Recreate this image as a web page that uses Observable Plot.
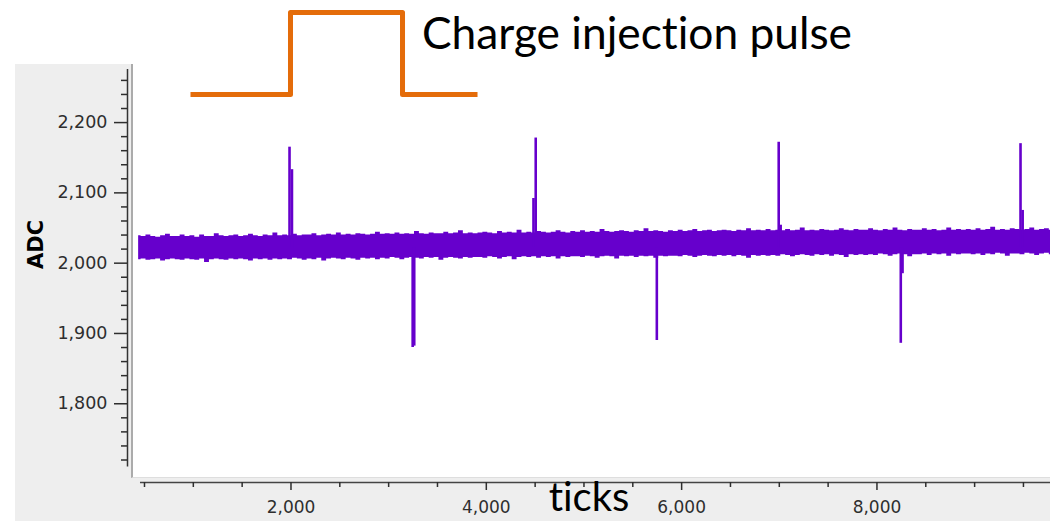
<!DOCTYPE html>
<html><head><meta charset="utf-8">
<script src="https://cdn.jsdelivr.net/npm/d3@7"></script>
<script src="https://cdn.jsdelivr.net/npm/@observablehq/plot@0.6"></script>
<style>
html,body{margin:0;padding:0;background:#fff;}
#wrap{position:relative;width:1050px;height:521px;overflow:hidden;background:#fff;}
#panel{position:absolute;left:15px;top:64px;width:1035px;height:457px;background:#eeeeee;}
#plotbg{position:absolute;left:131px;top:64px;width:919px;height:414px;background:#fff;border-left:2px solid #ababab;border-bottom:1px solid #dedede;box-sizing:border-box;}
#chart,#pulse{position:absolute;left:0;top:0;}
#title{position:absolute;left:422px;top:10px;font-family:Lato,"Open Sans",sans-serif;font-size:44px;line-height:1;color:#000;white-space:nowrap;transform-origin:left top;}
svg text, #title{font-variant-ligatures:none;font-feature-settings:"liga" 0;}
</style></head>
<body><div id="wrap"><div id="panel"></div><div id="plotbg"></div><div id="chart"></div><div id="pulse"></div><div id="title">Charge injection pulse</div></div>
<script>
// ---- data ----
const noiseTicks = [440,490,540,590,640,690,740,790,840,890,
  940,990,1040,1090,1140,1190,1240,1290,1340,1390,
  1440,1490,1540,1590,1640,1690,1740,1790,1840,1890,
  1940,1990,2040,2090,2140,2190,2240,2290,2340,2390,
  2440,2490,2540,2590,2640,2690,2740,2790,2840,2890,
  2940,2990,3040,3090,3140,3190,3240,3290,3340,3390,
  3440,3490,3540,3590,3640,3690,3740,3790,3840,3890,
  3940,3990,4040,4090,4140,4190,4240,4290,4340,4390,
  4440,4490,4540,4590,4640,4690,4740,4790,4840,4890,
  4940,4990,5040,5090,5140,5190,5240,5290,5340,5390,
  5440,5490,5540,5590,5640,5690,5740,5790,5840,5890,
  5940,5990,6040,6090,6140,6190,6240,6290,6340,6390,
  6440,6490,6540,6590,6640,6690,6740,6790,6840,6890,
  6940,6990,7040,7090,7140,7190,7240,7290,7340,7390,
  7440,7490,7540,7590,7640,7690,7740,7790,7840,7890,
  7940,7990,8040,8090,8140,8190,8240,8290,8340,8390,
  8440,8490,8540,8590,8640,8690,8740,8790,8840,8890,
  8940,8990,9040,9090,9140,9190,9240,9290,9340,9390,
  9440,9490,9540,9590,9640,9690,9740,9790,9840];
const noiseHigh = [2039,2038,2040,2038,2037,2039,2041,2038,2038,2040,
  2038,2039,2037,2040,2038,2038,2042,2039,2038,2039,
  2040,2038,2039,2041,2039,2038,2040,2039,2043,2039,
  2040,2039,2041,2039,2040,2040,2042,2039,2040,2041,
  2040,2043,2040,2041,2040,2042,2041,2040,2041,2044,
  2041,2042,2041,2043,2041,2042,2041,2045,2042,2041,
  2043,2042,2042,2044,2042,2043,2046,2042,2043,2042,
  2043,2044,2043,2042,2045,2043,2044,2043,2047,2043,
  2044,2043,2045,2044,2043,2044,2046,2044,2043,2045,
  2044,2046,2044,2045,2044,2048,2045,2044,2045,2046,
  2045,2044,2046,2045,2049,2045,2046,2045,2044,2046,
  2045,2047,2045,2046,2048,2045,2046,2047,2045,2046,
  2047,2046,2045,2047,2046,2049,2046,2047,2046,2048,
  2046,2047,2046,2048,2046,2047,2050,2046,2047,2046,
  2048,2047,2046,2047,2049,2047,2046,2048,2047,2047,
  2049,2047,2046,2048,2047,2050,2047,2046,2048,2047,
  2047,2049,2047,2048,2046,2047,2050,2047,2048,2047,
  2048,2047,2049,2047,2048,2051,2047,2048,2047,2049,
  2048,2047,2048,2050,2047,2048,2049,2047,2048];
const noiseLow = [2005,2006,2004,2005,2006,2003,2005,2006,2005,2004,
  2006,2005,2004,2006,2001,2005,2006,2005,2004,2006,
  2005,2006,2005,2003,2006,2005,2006,2004,2006,2005,
  2006,2005,2007,2006,2004,2006,2005,2007,2003,2006,
  2007,2006,2005,2007,2006,2004,2007,2006,2007,2005,
  2007,2006,2008,2007,2005,2007,2008,2007,2006,2008,
  2007,2008,2004,2007,2008,2007,2006,2008,2007,2008,
  2008,2007,2009,2008,2006,2008,2009,2005,2008,2009,
  2008,2009,2007,2009,2008,2009,2006,2009,2008,2009,
  2009,2008,2010,2009,2007,2009,2010,2009,2006,2010,
  2009,2010,2008,2010,2009,2010,2007,2010,2009,2010,
  2010,2009,2011,2010,2008,2010,2011,2010,2009,2011,
  2010,2011,2009,2011,2010,2007,2011,2010,2011,2010,
  2011,2010,2012,2011,2009,2011,2012,2011,2010,2012,
  2011,2012,2010,2012,2011,2008,2012,2011,2012,2011,
  2012,2011,2013,2012,2010,2012,2013,2012,2009,2012,
  2012,2013,2011,2013,2012,2013,2010,2013,2012,2013,
  2013,2012,2013,2011,2013,2012,2014,2013,2010,2013,
  2013,2012,2014,2013,2011,2013,2014,2012,2013];
const spikeTicks = [1985,2010,4483,4506,6994,7014,9470,9492,3246,3262,5746,8244,8262];
const spikeEnds  = [2165,2133,2092,2178,2172,2054,2170,2075,1880,1882,1890,1886,1985];
const spikeBase = 2022;
const pulseTicks  = [971,1995,3142,3910];
const pulseLevels = [0,1,0,0];
const xMajorTicks = [2000,4000,6000,8000];
const xMinorTicks = [500,1000,1500,2500,3000,3500,4500,5000,5500,6500,7000,7500,8500,9000,9500];
const yMajorTicks = [1800,1900,2000,2100,2200];
const yMinorTicks = [1720,1740,1760,1780,1820,1840,1860,1880,1920,1940,1960,1980,2020,2040,2060,2080,2120,2140,2160,2180,2220,2240,2260];
const xDomain = [326,9777];
const yDomain = [1688,2275.5];
const yAxisExtent = [1710,2275.5];
const xAxisExtent = [459,9777];

// ---- build ----
const purple = "#6600cc", orange = "#e46c0a", ink = "#2e2e2e";
const noise = noiseTicks.map((t,i)=>({tick:t, lo:noiseLow[i], hi:noiseHigh[i]}));
const spikes = spikeTicks.map((t,i)=>({tick:t, end:spikeEnds[i], base:spikeBase}));
const pulse = pulseTicks.map((t,i)=>({tick:t, level:pulseLevels[i]}));
const fmt = d3.format(",");
const common = {width:1050, height:521, marginLeft:127, marginRight:0, marginTop:69, marginBottom:39,
  style:{background:"transparent", overflow:"visible"}};

const chart = Plot.plot({...common,
  x:{domain:xDomain}, y:{domain:yDomain},
  marks:[
    Plot.areaY(noise,{x:"tick", y1:"lo", y2:"hi", curve:"step", fill:purple}),
    Plot.ruleX(spikes,{x:"tick", y1:"base", y2:"end", stroke:purple, strokeWidth:2.6}),
    Plot.ruleX([xDomain[0]],{y1:yAxisExtent[0], y2:yAxisExtent[1], stroke:"#333", strokeWidth:1.5}),
    Plot.ruleY([yDomain[0]],{x1:xAxisExtent[0], x2:xAxisExtent[1], stroke:"#444", strokeWidth:1.5}),
    Plot.axisY({ticks:yMajorTicks, tickSize:13, tickPadding:7, tickFormat:fmt, fontSize:17.5, fontFamily:"DejaVu Sans", color:ink, label:null, strokeWidth:1.5}),
    Plot.axisY({ticks:yMinorTicks, tickSize:6, tickFormat:()=>"", label:null, color:ink, strokeWidth:1.5}),
    Plot.axisX({ticks:xMajorTicks, tickSize:8, tickPadding:10, tickFormat:fmt, fontSize:17, fontFamily:"DejaVu Sans", color:ink, label:null, strokeWidth:1.5}),
    Plot.axisX({ticks:xMinorTicks, tickSize:5, tickFormat:()=>"", label:null, color:ink, strokeWidth:1.5}),
    Plot.text(["ADC"],{frameAnchor:"left", rotate:-90, dx:-91, dy:-7, fontSize:21, fontWeight:"bold", fontFamily:"DejaVu Sans", fill:"#000"}),
    Plot.text(["ticks"],{frameAnchor:"bottom", dy:28, fontSize:40, fontFamily:"Lato", fill:"#000"})
  ]});
document.getElementById("chart").appendChild(chart);

const pulsePlot = Plot.plot({...common,
  x:{domain:xDomain, axis:null}, y:{domain:[0,1], range:[94,12], axis:null},
  marks:[Plot.line(pulse,{x:"tick", y:"level", curve:"step-after", stroke:orange, strokeWidth:5, strokeLinejoin:"round", strokeLinecap:"butt"})]});
document.getElementById("pulse").appendChild(pulsePlot);

// fit title width to the reference span
const title = document.getElementById("title");
const w = title.getBoundingClientRect().width;
title.style.transform = `scaleX(${430/w})`;
</script>
</body></html>
